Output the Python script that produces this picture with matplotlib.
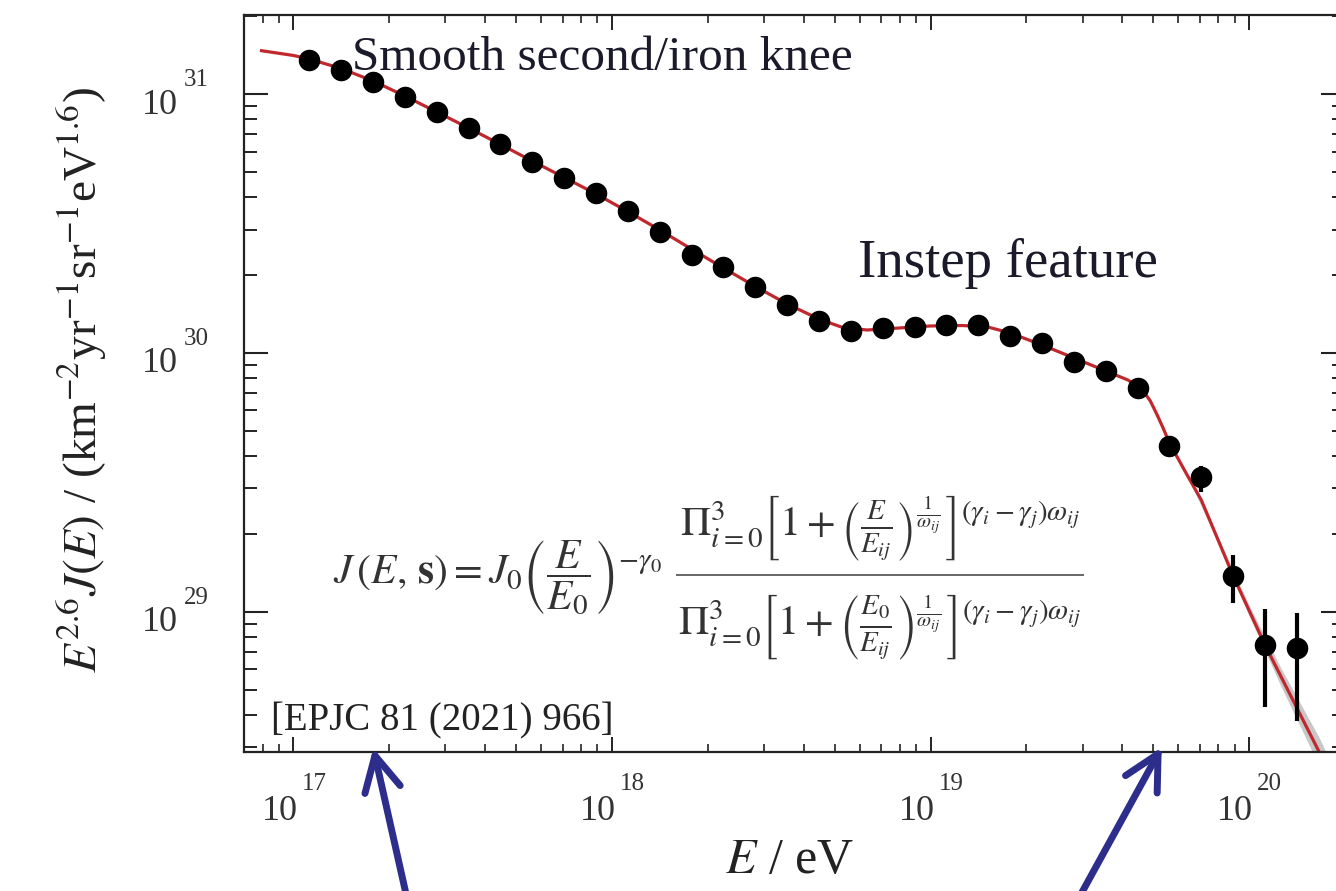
import numpy as np
import matplotlib
matplotlib.use("Agg")
import matplotlib.pyplot as plt
from matplotlib.lines import Line2D
from matplotlib.ticker import LogLocator, NullFormatter

plt.rcParams['font.family'] = ['Liberation Serif', 'DejaVu Serif']
plt.rcParams['mathtext.fontset'] = 'stix'

# ---------------- data ----------------
# log10(E/eV) bin centres of the measured points
logE_pts = [17.05, 17.15, 17.25, 17.35, 17.45, 17.55, 17.65, 17.75, 17.85, 17.95,
            18.05, 18.15, 18.25, 18.35, 18.45, 18.55, 18.65, 18.75, 18.85, 18.95,
            19.05, 19.15, 19.25, 19.35, 19.45, 19.55, 19.65, 19.75, 19.85, 19.95,
            20.05, 20.15]
# E^2.6 J(E)  [km^-2 yr^-1 sr^-1 eV^1.6]
flux_pts = [1.357e31, 1.241e31, 1.119e31, 9.79e30, 8.52e30, 7.39e30, 6.43e30, 5.49e30,
            4.76e30, 4.14e30, 3.54e30, 2.94e30, 2.39e30, 2.145e30, 1.804e30, 1.533e30,
            1.333e30, 1.220e30, 1.252e30, 1.264e30, 1.283e30, 1.283e30, 1.163e30,
            1.090e30, 9.26e29, 8.52e29, 7.34e29, 4.37e29, 3.31e29, 1.374e29,
            7.43e28, 7.22e28]

# visible error bars
err_logE = [19.85, 19.95, 20.05, 20.15]
err_lo = [2.91e29, 1.078e29, 4.29e28, 3.79e28]
err_hi = [3.67e29, 1.656e29, 1.022e29, 9.86e28]

# fitted spectrum (red line)
fit_logE = [16.90, 17.00, 17.05, 17.15, 17.25, 17.35, 17.45, 17.55, 17.65, 17.75,
            17.85, 17.95, 18.05, 18.15, 18.25, 18.35, 18.45, 18.55, 18.65, 18.72,
            18.80, 18.90, 19.00, 19.10, 19.18, 19.25, 19.35, 19.45, 19.55, 19.62,
            19.65, 19.67, 19.69, 19.71, 19.73, 19.75, 19.80, 19.85, 19.90, 19.95,
            20.05, 20.22, 20.30]
fit_flux = [1.474e31, 1.413e31, 1.369e31, 1.258e31, 1.126e31, 9.85e30, 8.54e30, 7.41e30,
            6.40e30, 5.52e30, 4.77e30, 4.12e30, 3.52e30, 2.99e30, 2.52e30, 2.13e30,
            1.808e30, 1.547e30, 1.353e30, 1.260e30, 1.227e30, 1.249e30, 1.272e30,
            1.277e30, 1.260e30, 1.195e30, 1.074e30, 9.57e29, 8.52e29, 7.86e29,
            7.42e29, 7.07e29, 6.52e29, 5.81e29, 5.13e29, 4.49e29, 3.47e29, 2.70e29,
            1.927e29, 1.374e29, 7.43e28, 2.87e28, 1.743e28]

# uncertainty band of the fit (grey)
band_logE = [19.80, 19.90, 20.00, 20.10, 20.22, 20.30]
band_lo = [3.46e29, 1.883e29, 9.66e28, 5.15e28, 2.53e28, 1.50e28]
band_hi = [3.48e29, 1.972e29, 1.059e29, 6.05e28, 3.26e28, 2.02e28]

# major tick decades
x_decades = [17, 18, 19, 20]
y_decades = [29, 30, 31]

# ---------------- figure ----------------
W, H = 1336, 891
fig = plt.figure(figsize=(W / 100, H / 100), dpi=100)
fig.patch.set_facecolor('white')

left, right, top, bottom = 244, 1345, 15, 752
ax = fig.add_axes([left / W, 1 - bottom / H, (right - left) / W, (bottom - top) / H])
ax.set_xscale('log')
ax.set_yscale('log')
ax.set_xlim(10 ** 16.845, 10 ** 20.301)
ax.set_ylim(10 ** 28.4577, 10 ** 31.3065)

ax.fill_between(10 ** np.array(band_logE), band_lo, band_hi, color='#c8c8c8', lw=0, zorder=1)
ax.plot(10 ** np.array(fit_logE), fit_flux, color='#c0282e', lw=2.3, zorder=2)
ax.vlines(10 ** np.array(err_logE), err_lo, err_hi, color='black', lw=3, zorder=3)
ax.plot(10 ** np.array(logE_pts), flux_pts, 'o', color='black', ms=14.5, zorder=4)

# ticks
ax.set_xticks([10.0 ** d for d in x_decades])
ax.set_yticks([10.0 ** d for d in y_decades])
for axis in (ax.xaxis, ax.yaxis):
    axis.set_minor_locator(LogLocator(base=10, subs=np.arange(2, 10), numticks=100))
    axis.set_minor_formatter(NullFormatter())

ax.tick_params(axis='both', which='both', direction='in', top=True, right=True,
               colors='#222222', labelbottom=False, labelleft=False)
ax.tick_params(axis='y', which='major', length=17, width=1.5)
ax.tick_params(axis='y', which='minor', length=9.5, width=1.4)
ax.tick_params(axis='x', which='major', length=10.5, width=1.4)
ax.tick_params(axis='x', which='minor', length=5.5, width=1.2)
for sp in ax.spines.values():
    sp.set_linewidth(1.6)
    sp.set_color('#222222')


def fx(x):
    return x / W


def fy(y):
    return 1 - y / H


# tick labels: "10" with a raised exponent
lab_color = '#333333'
for d in x_decades:
    px = ax.transData.transform((10.0 ** d, 1e30))[0]
    fig.text(fx(px + 4), fy(820), '10', fontsize=26, color=lab_color, ha='right', va='baseline')
    fig.text(fx(px + 8), fy(790), str(d), fontsize=18, color=lab_color, ha='left', va='baseline')
for d in y_decades:
    py = H - ax.transData.transform((1e18, 10.0 ** d))[1]
    fig.text(fx(178), fy(py + 19.5), '10', fontsize=26, color=lab_color, ha='right', va='baseline')
    fig.text(fx(184), fy(py - 8), str(d), fontsize=18, color=lab_color, ha='left', va='baseline')

# ---------------- texts ----------------
fig.text(fx(352), fy(70), 'Smooth second/iron knee', fontsize=35.5, color='#1a1a2a',
         ha='left', va='baseline')
fig.text(fx(858), fy(277), 'Instep feature', fontsize=39.5, color='#1a1a2a',
         ha='left', va='baseline')
fig.text(fx(271), fy(730), '[EPJC 81 (2021) 966]', fontsize=28, color='#222222',
         ha='left', va='baseline')

f_col = '#333333'
fig.text(fx(333), fy(578),
         r'$J\,(E,\,\mathbf{s}) = J_0\left(\dfrac{E}{E_0}\right)^{-\gamma_0}$',
         fontsize=30, color=f_col, ha='left', va='center')
fig.text(fx(880), fy(563),
         r'$\Pi_{i=0}^{3}\left[1+\left(\frac{E}{E_{ij}}\right)^{\frac{1}{\omega_{ij}}}\right]^{(\gamma_i-\gamma_j)\omega_{ij}}$',
         fontsize=30, color=f_col, ha='center', va='bottom')
fig.text(fx(880), fy(592),
         r'$\Pi_{i=0}^{3}\left[1+\left(\frac{E_0}{E_{ij}}\right)^{\frac{1}{\omega_{ij}}}\right]^{(\gamma_i-\gamma_j)\omega_{ij}}$',
         fontsize=30, color=f_col, ha='center', va='top')
fig.add_artist(Line2D([fx(677), fx(1083)], [fy(575), fy(575)], color='#666666', lw=1.4,
                      transform=fig.transFigure))

fig.text(fx(790), fy(861), r'$E$ / eV', fontsize=36, color='#222222', ha='center', va='center')
fig.text(fx(82), fy(380),
         r'$E^{2.6}J(E)$ / (km$^{-2}$yr$^{-1}$sr$^{-1}$eV$^{1.6}$)',
         fontsize=34, color='#222222', rotation=90, ha='center', va='center')

# ---------------- arrows ----------------
arrow_color = '#2d2e8c'
arrows = [((373.3, 748.3), (408.5, 905)), ((1161.7, 747.3), (1075, 905))]
for tip, tail in arrows:
    ax.annotate('', xy=(tip[0], H - tip[1]), xytext=(tail[0], H - tail[1]),
                xycoords='figure pixels', textcoords='figure pixels',
                arrowprops=dict(arrowstyle='->,head_length=1.25,head_width=0.65',
                                lw=5, color=arrow_color, shrinkA=0, shrinkB=0,
                                mutation_scale=20),
                annotation_clip=False)

fig.savefig('out.png', dpi=100, facecolor='white')
